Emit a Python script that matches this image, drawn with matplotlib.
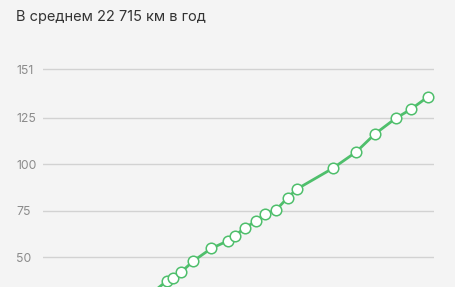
import matplotlib
matplotlib.use("Agg")
import matplotlib.pyplot as plt

# x position along the time axis (0..100 across the plot), mileage in thousand km
month = [27.9, 31.8, 33.4, 35.3, 38.5, 43.1, 47.4, 49.1, 51.7, 54.5,
         56.8, 59.6, 62.6, 64.9, 74.1, 80.1, 84.9, 90.2, 94.1, 98.4]
mileage = [30.8, 37.4, 38.7, 41.9, 48.0, 54.8, 58.9, 61.6, 65.9, 69.4,
           73.3, 75.4, 82.0, 86.6, 97.8, 106.6, 116.3, 124.7, 129.6, 136.2]
yticks = [50, 75, 100, 125, 151]
title = "В среднем 22 715 км в год"

plt.rcParams['font.family'] = ['Inter', 'DejaVu Sans']

W, H = 456, 287
fig = plt.figure(figsize=(W / 100, H / 100), dpi=100)
fig.patch.set_facecolor('#f4f4f4')

left, right = 42.7, 434
ax = fig.add_axes([left / W, 0, (right - left) / W, 1])
ax.set_facecolor('#f4f4f4')
ax.set_xlim(0, 100)
ax.set_ylim(34.03, 188.33)

for s in ax.spines.values():
    s.set_visible(False)

ax.set_xticks([])
ax.set_yticks(yticks)
ax.set_yticklabels([str(t) for t in yticks], ha='left')
ax.tick_params(axis='y', length=0, pad=(left - 16) * 0.72,
               labelsize=8.8, labelcolor='#8c8c8c')
ax.grid(axis='y', color='#d2d2d2', linewidth=1)
ax.set_axisbelow(True)

ax.plot(month, mileage, color='#4fbf6c', linewidth=2,
        marker='o', markersize=7.6, markerfacecolor='white',
        markeredgecolor='#4fbf6c', markeredgewidth=1.1)

fig.text(16 / W, 1 - 17.5 / H, title, fontsize=10.5, color='#333333',
         ha='left', va='center')

fig.savefig('out.png', dpi=100, facecolor=fig.get_facecolor())
